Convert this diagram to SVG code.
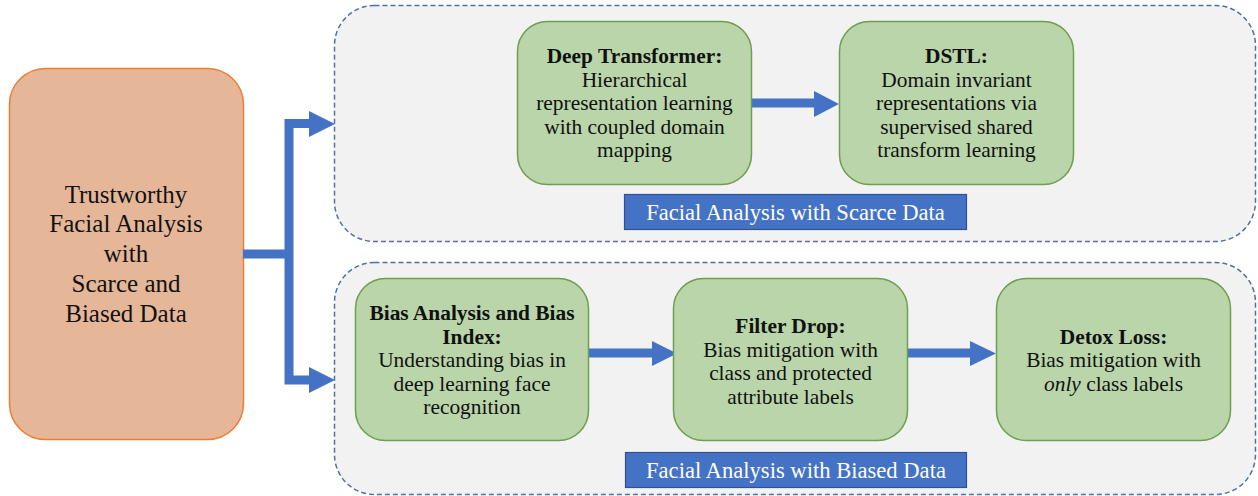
<svg xmlns="http://www.w3.org/2000/svg" width="1258" height="496" viewBox="0 0 1258 496">
  <style>
    .group { fill: #F2F2F2; stroke: #4F6FA6; stroke-width: 1.5; stroke-dasharray: 5 3; }
    .step { fill: #B9D5A9; stroke: #6E9E4E; stroke-width: 1.5; }
    .root { fill: #E5B798; stroke: #ED7D31; stroke-width: 1.5; }
    .tag { fill: #4472C4; stroke: #2F528F; stroke-width: 1.2; }
    .wire { fill: none; stroke: #4472C4; stroke-width: 9; }
    .head { fill: #4472C4; }
    text { font-family: "Liberation Serif", "Times New Roman", serif; text-anchor: middle; fill: #111; }
    .body { font-size: 21.4px; }
    .b { font-weight: bold; }
    .tagtext { font-size: 22.6px; fill: #FFFFFF; }
    .roottext { font-size: 25px; }
  </style>

  <!-- group containers -->
  <g id="scarce-group">
    <rect class="group" x="334.5" y="5.5" width="921" height="236" rx="40"/>
  </g>
  <g id="biased-group">
    <rect class="group" x="334.5" y="262.5" width="921" height="232" rx="40"/>
  </g>

  <!-- root node -->
  <g id="root">
    <rect class="root" x="9.5" y="68.5" width="234" height="371" rx="36"/>
    <text class="roottext" x="126" y="203">Trustworthy</text>
    <text class="roottext" x="126" y="232">Facial Analysis</text>
    <text class="roottext" x="126" y="262">with</text>
    <text class="roottext" x="126" y="292">Scarce and</text>
    <text class="roottext" x="126" y="322">Biased Data</text>
  </g>

  <!-- connectors -->
  <g id="connectors">
    <polyline class="wire" points="243,254 289,254"/>
    <polyline class="wire" points="312,123.5 289,123.5 289,380 312,380"/>
    <polygon class="head" points="309,111 335,124 309,137"/>
    <polygon class="head" points="309,367 335,380 309,393"/>
    <line class="wire" x1="752" y1="103" x2="816" y2="103"/>
    <polygon class="head" points="814,91 839,104 814,117"/>
    <line class="wire" x1="588" y1="353" x2="654" y2="353"/>
    <polygon class="head" points="652,341 677,353.5 652,366"/>
    <line class="wire" x1="908" y1="353" x2="972" y2="353"/>
    <polygon class="head" points="970,341 996,353.5 970,366"/>
  </g>

  <!-- scarce data steps -->
  <g id="deep-transformer">
    <rect class="step" x="517.5" y="21.5" width="234" height="163" rx="30"/>
    <text class="body b" x="634.5" y="63">Deep Transformer:</text>
    <text class="body" x="634.5" y="86.5">Hierarchical</text>
    <text class="body" x="634.5" y="110">representation learning</text>
    <text class="body" x="634.5" y="133.5">with coupled domain</text>
    <text class="body" x="634.5" y="157">mapping</text>
  </g>
  <g id="dstl">
    <rect class="step" x="839.5" y="21.5" width="234" height="163" rx="30"/>
    <text class="body b" x="956.5" y="63">DSTL:</text>
    <text class="body" x="956.5" y="86.5">Domain invariant</text>
    <text class="body" x="956.5" y="110">representations via</text>
    <text class="body" x="956.5" y="133.5">supervised shared</text>
    <text class="body" x="956.5" y="157">transform learning</text>
  </g>
  <g id="scarce-label">
    <rect class="tag" x="624.5" y="194.5" width="342" height="35"/>
    <text class="tagtext" x="795.5" y="220">Facial Analysis with Scarce Data</text>
  </g>

  <!-- biased data steps -->
  <g id="bias-analysis">
    <rect class="step" x="355.5" y="278.5" width="233" height="162" rx="30"/>
    <text class="body b" x="472" y="320">Bias Analysis and Bias</text>
    <text class="body b" x="472" y="343.5">Index:</text>
    <text class="body" x="472" y="367">Understanding bias in</text>
    <text class="body" x="472" y="390.5">deep learning face</text>
    <text class="body" x="472" y="414">recognition</text>
  </g>
  <g id="filter-drop">
    <rect class="step" x="673.5" y="278.5" width="234" height="162" rx="30"/>
    <text class="body b" x="790.5" y="333">Filter Drop:</text>
    <text class="body" x="790.5" y="356.5">Bias mitigation with</text>
    <text class="body" x="790.5" y="380">class and protected</text>
    <text class="body" x="790.5" y="403.5">attribute labels</text>
  </g>
  <g id="detox-loss">
    <rect class="step" x="996.5" y="278.5" width="234" height="162" rx="30"/>
    <text class="body b" x="1113.5" y="343.5">Detox Loss:</text>
    <text class="body" x="1113.5" y="367">Bias mitigation with</text>
    <text class="body" x="1113.5" y="390.5"><tspan font-style="italic">only</tspan> class labels</text>
  </g>
  <g id="biased-label">
    <rect class="tag" x="625.5" y="452.5" width="341" height="35"/>
    <text class="tagtext" x="796" y="478">Facial Analysis with Biased Data</text>
  </g>
</svg>
